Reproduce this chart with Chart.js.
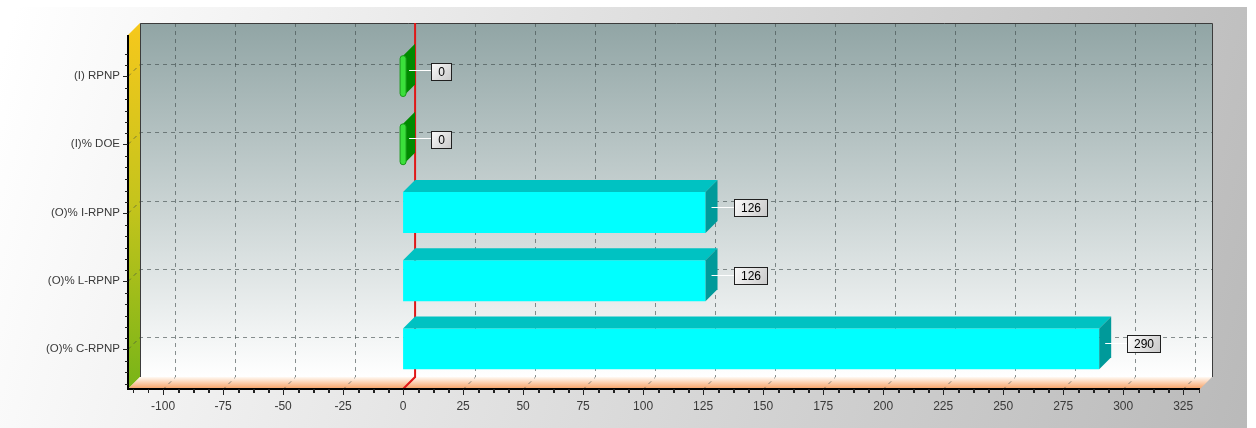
<!DOCTYPE html>
<html lang="en">
<head>
  <meta charset="UTF-8">
  <title>RPNP chart</title>
  <script src="https://cdn.jsdelivr.net/npm/chart.js@4.4.0/dist/chart.umd.min.js"></script>
  <style>
    body { margin: 0; background: #fff; }
    #wrap { width: 1256px; height: 428px; }
  </style>
</head>
<body>
  <div id="wrap"><canvas id="chart" width="1256" height="428"></canvas></div>
  <script>
    // data
    const categories = ['(I) RPNP', '(I)% DOE', '(O)% I-RPNP', '(O)% L-RPNP', '(O)% C-RPNP'];
    const values = [0, 0, 126, 126, 290];
    const xMin = -114.6;
    const xMax = 332;
    const xStep = 25;

    const DX = 12, DY = 12; // 3d depth
    const FONT = '"Liberation Sans", Arial, sans-serif';

    const palette = {
      I: { front: '#3be03b', top: '#1fb81f', side: '#008a00', edge: '#1a9a1a' },
      O: { front: '#00ffff', top: '#00c2c2', side: '#009a9a', edge: '#00b0b0' }
    };
    const groupOf = (i) => categories[i].startsWith('(I)') ? 'I' : 'O';

    function poly(ctx, pts, fill) {
      ctx.beginPath();
      ctx.moveTo(pts[0][0], pts[0][1]);
      for (let i = 1; i < pts.length; i++) ctx.lineTo(pts[i][0], pts[i][1]);
      ctx.closePath();
      ctx.fillStyle = fill;
      ctx.fill();
    }

    function frame(chart) {
      const ca = chart.chartArea;
      return { L: ca.left, R: ca.right, T: ca.top - 7, B: ca.bottom + 6 };
    }

    const threeD = {
      id: 'threeD',
      beforeDraw(chart) {
        const ctx = chart.ctx;
        const x = chart.scales.x, y = chart.scales.y;
        const W = chart.width, H = chart.height;
        const { L, R, T, B } = frame(chart);
        ctx.save();

        // panel background
        ctx.fillStyle = '#ffffff';
        ctx.fillRect(0, 0, W, H);
        let g = ctx.createLinearGradient(0, 60, W, H);
        g.addColorStop(0, '#ffffff');
        g.addColorStop(1, '#b9b9b9');
        ctx.fillStyle = g;
        ctx.fillRect(0, 7, 1247, H - 7);

        // back wall
        g = ctx.createLinearGradient(0, T - DY, 0, B - DY);
        g.addColorStop(0, '#91a5a5');
        g.addColorStop(1, '#ffffff');
        ctx.fillStyle = g;
        ctx.fillRect(L + DX, T - DY, R - L, B - T);

        // left wall
        g = ctx.createLinearGradient(0, T - DY, 0, B);
        g.addColorStop(0, '#f6c81c');
        g.addColorStop(0.5, '#c4c41c');
        g.addColorStop(1, '#78b418');
        poly(ctx, [[L, T], [L + DX, T - DY], [L + DX, B - DY], [L, B]], g);

        // floor
        g = ctx.createLinearGradient(0, B - DY, 0, B);
        g.addColorStop(0, '#fffaf4');
        g.addColorStop(1, '#f7a062');
        poly(ctx, [[L + DX, B - DY], [R + DX, B - DY], [R, B], [L, B]], g);

        // grid
        ctx.setLineDash([4, 4]);
        ctx.lineWidth = 1;
        ctx.strokeStyle = 'rgba(60,72,72,0.6)';
        x.ticks.forEach(t => {
          const px = Math.round(x.getPixelForValue(t.value)) + 0.5;
          ctx.beginPath();
          ctx.moveTo(px + DX, T - DY);
          ctx.lineTo(px + DX, B - DY);
          ctx.lineTo(px, B);
          ctx.stroke();
        });
        categories.forEach((c, i) => {
          const py = Math.round(y.getPixelForValue(i)) + 0.5;
          ctx.beginPath();
          ctx.moveTo(L, py);
          ctx.lineTo(L + DX, py - DY);
          ctx.lineTo(R + DX, py - DY);
          ctx.stroke();
        });
        ctx.setLineDash([]);

        // wall border
        ctx.strokeStyle = '#3c3c3c';
        ctx.beginPath();
        ctx.moveTo(L + DX + 0.5, B - DY);
        ctx.lineTo(L + DX + 0.5, T - DY + 0.5);
        ctx.lineTo(R + DX + 0.5, T - DY + 0.5);
        ctx.lineTo(R + DX + 0.5, B - DY);
        ctx.stroke();

        // zero line
        const z = x.getPixelForValue(0);
        ctx.strokeStyle = '#e01818';
        ctx.lineWidth = 2;
        ctx.beginPath();
        ctx.moveTo(z + DX, T - DY);
        ctx.lineTo(z + DX, B - DY);
        ctx.lineTo(z, B);
        ctx.stroke();
        ctx.restore();
      },
      afterDatasetsDraw(chart) {
        const ctx = chart.ctx;
        const meta = chart.getDatasetMeta(0);
        ctx.save();
        meta.data.forEach((el, i) => {
          const p = el.getProps(['x', 'y', 'base', 'height'], true);
          const c = palette[groupOf(i)];
          const left = Math.min(p.base, p.x), right = Math.max(p.base, p.x);
          const top = p.y - p.height / 2, bot = p.y + p.height / 2;
          if (right - left > 1) {
            poly(ctx, [[left, top], [left + DX, top - DY], [right + DX, top - DY], [right, top]], c.top);
          }
          poly(ctx, [[right, top], [right + DX, top - DY], [right + DX, bot - DY], [right, bot]], c.side);
          if (right - left <= 1) {
            ctx.beginPath();
            ctx.roundRect(right - 3, top, 6, bot - top, 3);
            ctx.fillStyle = c.front;
            ctx.fill();
            ctx.strokeStyle = c.edge;
            ctx.lineWidth = 1;
            ctx.stroke();
          }

          // value mark
          const text = String(values[i]);
          ctx.font = '12px ' + FONT;
          const tw = ctx.measureText(text).width;
          const bx = Math.round(right + 28) + 0.5;
          const by = Math.round(p.y - 5 - 8.5) + 0.5;
          const bw = Math.round(tw + 13), bh = 17;
          ctx.strokeStyle = '#ffffff';
          ctx.lineWidth = 1;
          ctx.beginPath();
          ctx.moveTo(right + DX / 2, Math.round(p.y - 6) + 0.5);
          ctx.lineTo(bx, Math.round(p.y - 6) + 0.5);
          ctx.stroke();
          const g = ctx.createLinearGradient(bx, by, bx + bw, by + bh);
          g.addColorStop(0, '#fbfbfb');
          g.addColorStop(1, '#c9c9c9');
          ctx.fillStyle = g;
          ctx.fillRect(bx, by, bw, bh);
          ctx.strokeStyle = '#202020';
          ctx.strokeRect(bx, by, bw, bh);
          ctx.fillStyle = '#000';
          ctx.textAlign = 'center';
          ctx.textBaseline = 'middle';
          ctx.fillText(text, bx + bw / 2, by + bh / 2 + 1);
        });
        ctx.restore();
      },
      afterDraw(chart) {
        const ctx = chart.ctx;
        const x = chart.scales.x, y = chart.scales.y;
        const { L, R, T, B } = frame(chart);
        ctx.save();
        ctx.strokeStyle = '#000';
        ctx.lineWidth = 2;
        ctx.beginPath();
        ctx.moveTo(L, T);
        ctx.lineTo(L, B);
        ctx.lineTo(R, B);
        ctx.stroke();

        ctx.lineWidth = 1;
        ctx.strokeStyle = '#222';
        // x ticks with minors
        const unit = (x.getPixelForValue(xStep) - x.getPixelForValue(0)) / 4;
        x.ticks.forEach(t => {
          const px = Math.round(x.getPixelForValue(t.value)) + 0.5;
          ctx.beginPath();
          ctx.moveTo(px, B);
          ctx.lineTo(px, B + 6);
          ctx.stroke();
          for (let k = -3; k <= 3; k++) {
            if (k === 0) continue;
            const mx = Math.round(px + k * unit) + 0.5;
            if (mx < L || mx > R) continue;
            if (Math.abs(k) === 4) continue;
            ctx.beginPath();
            ctx.moveTo(mx, B);
            ctx.lineTo(mx, B + 4);
            ctx.stroke();
          }
        });
        // y ticks with minors
        const band = y.getPixelForValue(1) - y.getPixelForValue(0);
        categories.forEach((c, i) => {
          const py = Math.round(y.getPixelForValue(i)) + 0.5;
          ctx.beginPath();
          ctx.moveTo(L, py);
          ctx.lineTo(L - 5, py);
          ctx.stroke();
          for (let k = -2; k <= 3; k++) {
            if (k === 0) continue;
            const my = Math.round(py + k * band / 6) + 0.5;
            if (my < T || my > B) continue;
            if (k === -3) continue;
            ctx.beginPath();
            ctx.moveTo(L, my);
            ctx.lineTo(L - 3, my);
            ctx.stroke();
          }
        });
        ctx.restore();
      }
    };

    new Chart(document.getElementById('chart'), {
      type: 'bar',
      data: {
        labels: categories,
        datasets: [{
          data: values,
          backgroundColor: categories.map((c, i) => palette[groupOf(i)].front),
          borderWidth: 0,
          barPercentage: 0.6,
          categoryPercentage: 1
        }]
      },
      options: {
        indexAxis: 'y',
        responsive: false,
        animation: false,
        devicePixelRatio: 1,
        layout: { padding: { top: 42, right: 56, left: 0, bottom: 0 } },
        plugins: { legend: { display: false }, tooltip: { enabled: false } },
        scales: {
          x: {
            type: 'linear',
            min: xMin,
            max: xMax,
            grid: { display: false, drawTicks: false },
            border: { display: false },
            ticks: {
              stepSize: xStep,
              includeBounds: false,
              padding: 16,
              maxRotation: 0,
              autoSkip: false,
              color: '#3a3a3a',
              font: { family: FONT, size: 12 }
            },
            afterFit(s) { s.height = 45; }
          },
          y: {
            grid: { display: false, drawTicks: false },
            border: { display: false },
            ticks: {
              padding: 8,
              color: '#3a3a3a',
              font: { family: FONT, size: 11.5 }
            },
            afterFit(s) { s.width = 128; }
          }
        }
      },
      plugins: [threeD]
    });
  </script>
</body>
</html>
